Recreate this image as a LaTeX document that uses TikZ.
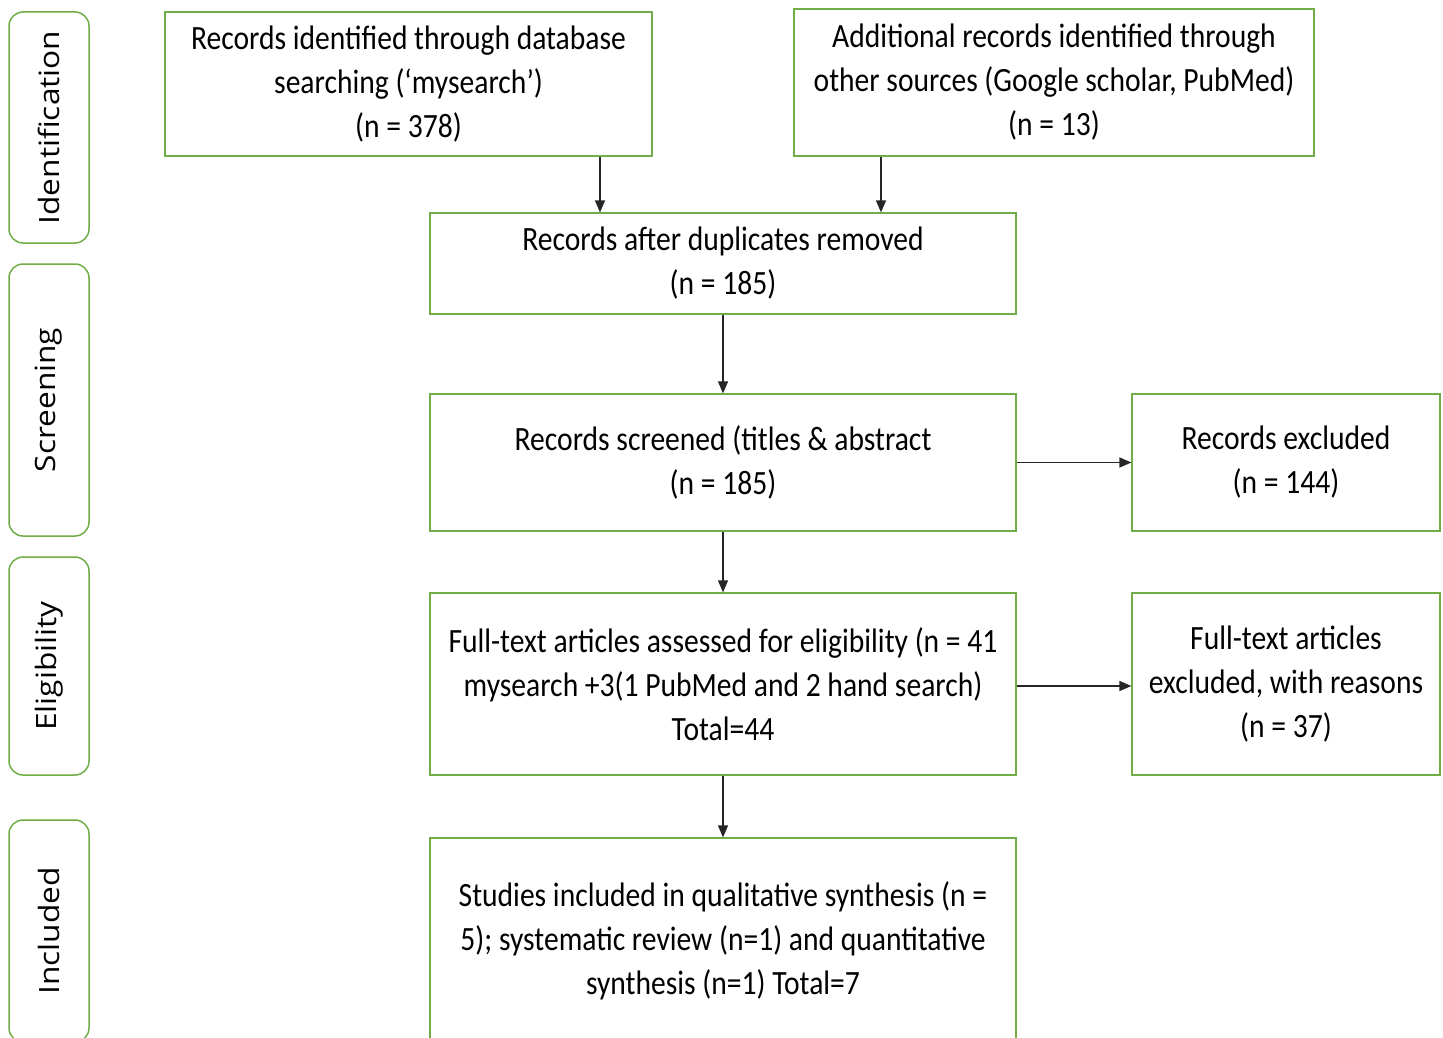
\documentclass[tikz,border=0pt]{standalone}
\usepackage{fontspec}
\setmainfont{Carlito}[FakeStretch=0.87]
\newfontfamily\sidefont{Open Sans}[FakeStretch=1.13]
\usetikzlibrary{arrows.meta}
\definecolor{prismagreen}{RGB}{112,173,71}

\begin{document}
\begin{tikzpicture}[
  yscale = -1,
  flowbox/.style = {draw=prismagreen,line width=1.2pt,align=center,inner sep=0pt,font=\fontsize{34}{44}\selectfont},
  sidebox/.style = {draw=prismagreen,line width=1.5pt,rounded corners=14pt,inner sep=0pt,rotate=90,minimum height=80pt,font=\sidefont\fontsize{28}{34}\selectfont},
  flowarrow/.style = {-{Triangle[length=12pt,width=10pt]},line width=1.2pt,color=black!85},
]
  \useasboundingbox (0pt,0pt) rectangle (1443pt,1038pt);
  % phase labels
  \node[sidebox,minimum width=231pt] (ident) at (49pt,127.5pt) {Identification};
  \node[sidebox,minimum width=272pt] (screen) at (49pt,400pt) {Screening};
  \node[sidebox,minimum width=218pt] (elig) at (49pt,666pt) {Eligibility};
  \node[sidebox,minimum width=222pt] (incl) at (49pt,931pt) {Included};
  % boxes
  \node[flowbox,minimum width=487pt,minimum height=144pt] (db) at (408.5pt,84pt)
    {Records identified through database\\searching (‘mysearch’)\\(n = 378)};
  \node[flowbox,minimum width=520pt,minimum height=147pt] (other) at (1054pt,82.5pt)
    {Additional records identified through\\other sources (Google scholar, PubMed)\\(n = 13)};
  \node[flowbox,minimum width=586pt,minimum height=101pt] (dup) at (723pt,263.5pt)
    {Records after duplicates removed\\(n = 185)};
  \node[flowbox,minimum width=586pt,minimum height=137pt] (screened) at (723pt,462.5pt)
    {Records screened (titles \& abstract\\(n = 185)};
  \node[flowbox,minimum width=308pt,minimum height=137pt] (excl) at (1286pt,462.5pt)
    {Records excluded\\(n = 144)};
  \node[flowbox,minimum width=586pt,minimum height=182pt] (fulltext) at (723pt,684pt)
    {Full-text articles assessed for eligibility (n = 41\\mysearch +3(1 PubMed and 2 hand search)\\Total=44};
  \node[flowbox,minimum width=308pt,minimum height=182pt] (ftexcl) at (1286pt,684pt)
    {Full-text articles\\excluded, with reasons\\(n = 37)};
  \node[flowbox,minimum width=586pt,minimum height=206pt] (studies) at (723pt,941pt)
    {Studies included in qualitative synthesis (n =\\5); systematic review (n=1) and quantitative\\synthesis (n=1) Total=7};
  % connectors
  \draw[flowarrow] ([xshift=191.5pt]db.south) -- ([xshift=-123pt]dup.north);
  \draw[flowarrow] ([xshift=-173pt]other.south) -- ([xshift=158pt]dup.north);
  \draw[flowarrow] (dup) -- (screened);
  \draw[flowarrow] (screened) -- (excl);
  \draw[flowarrow] (screened) -- (fulltext);
  \draw[flowarrow] ([yshift=2pt]fulltext.east) -- ([yshift=2pt]ftexcl.west);
  \draw[flowarrow] (fulltext) -- (studies);
\end{tikzpicture}
\end{document}
